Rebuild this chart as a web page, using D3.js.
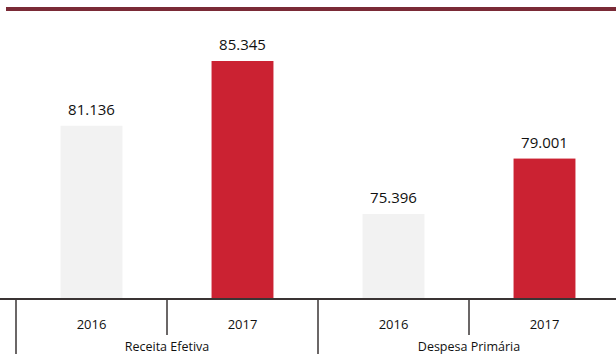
<!DOCTYPE html>
<html>
<head>
<meta charset="utf-8">
<script src="https://cdn.jsdelivr.net/npm/d3@7"></script>
<style>
  body { margin: 0; background: #fff; }
  svg { display: block; font-family: "Open Sans", sans-serif; }
</style>
</head>
<body>
<div class="my-graph"></div>
<script>
const groups = ['Receita Efetiva', 'Despesa Primária']
const years = ['2016', '2017']
const values = [81.136, 85.345, 75.396, 79.001]
const valueLabels = ['81.136', '85.345', '75.396', '79.001']
const barColors = ['#f2f2f2', '#cb2232']

const width = 616
const height = 354

const dataset = values.map((v, i) => ({
  key: groups[Math.floor(i / 2)] + '|' + years[i % 2],
  group: groups[Math.floor(i / 2)],
  year: years[i % 2],
  yearIdx: i % 2,
  value: v,
  label: valueLabels[i]
}))

const x = d3.scaleBand()
  .domain(dataset.map(d => d.key))
  .range([16, 620])
  .paddingInner(0.59)
  .paddingOuter(0.295)

const xCell = d3.scaleBand()
  .domain(dataset.map(d => d.key))
  .range([16, 620])

const xGroup = d3.scaleBand()
  .domain(groups)
  .range([16, 620])

const y = d3.scaleLinear()
  .domain([69.87, 85.345])
  .range([299, 61])

const svg = d3.select('.my-graph')
  .append('svg')
  .attr('width', width)
  .attr('height', height)

// header rule
svg.append('rect')
  .attr('x', 6).attr('y', 7)
  .attr('width', width - 6).attr('height', 4)
  .attr('fill', '#7a2a36')

// bars
svg.selectAll('.bar')
  .data(dataset)
  .enter().append('rect')
  .attr('class', 'bar')
  .attr('x', d => x(d.key))
  .attr('y', d => y(d.value))
  .attr('width', x.bandwidth())
  .attr('height', d => y.range()[0] - y(d.value))
  .attr('fill', d => barColors[d.yearIdx])

// value labels
svg.selectAll('.val')
  .data(dataset)
  .enter().append('text')
  .attr('class', 'val')
  .attr('x', d => x(d.key) + x.bandwidth() / 2)
  .attr('y', d => y(d.value) - 11)
  .attr('text-anchor', 'middle')
  .attr('font-size', 15)
  .attr('fill', '#111')
  .text(d => d.label)

// category table
const lineColor = '#3a3434'
const base = y.range()[0]

svg.append('line')
  .attr('x1', 0).attr('x2', width)
  .attr('y1', base).attr('y2', base)
  .attr('stroke', lineColor).attr('stroke-width', 2)

svg.append('line')
  .attr('x1', 16).attr('x2', 16)
  .attr('y1', base).attr('y2', height)
  .attr('stroke', lineColor).attr('stroke-width', 1.5)

// group dividers
svg.selectAll('.gdiv')
  .data(groups.slice(1))
  .enter().append('line')
  .attr('x1', d => xGroup(d)).attr('x2', d => xGroup(d))
  .attr('y1', base).attr('y2', height)
  .attr('stroke', lineColor).attr('stroke-width', 1.5)

// year dividers
svg.selectAll('.ydiv')
  .data(dataset.filter(d => d.yearIdx === 1))
  .enter().append('line')
  .attr('x1', d => xCell(d.key)).attr('x2', d => xCell(d.key))
  .attr('y1', base).attr('y2', 335)
  .attr('stroke', lineColor).attr('stroke-width', 1.5)

svg.selectAll('.year')
  .data(dataset)
  .enter().append('text')
  .attr('class', 'year')
  .attr('x', d => xCell(d.key) + xCell.bandwidth() / 2)
  .attr('y', 329)
  .attr('text-anchor', 'middle')
  .attr('font-size', 13)
  .attr('fill', '#111')
  .text(d => d.year)

svg.selectAll('.grp')
  .data(groups)
  .enter().append('text')
  .attr('class', 'grp')
  .attr('x', d => xGroup(d) + xGroup.bandwidth() / 2)
  .attr('y', 351)
  .attr('text-anchor', 'middle')
  .attr('font-size', 12.5)
  .attr('fill', '#111')
  .text(d => d)
</script>
</body>
</html>
